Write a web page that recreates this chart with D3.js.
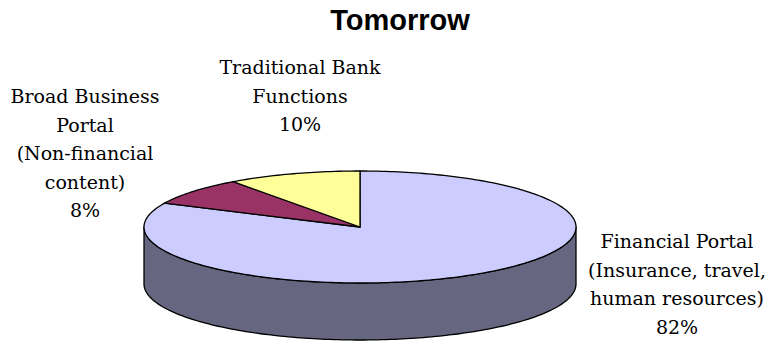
<!DOCTYPE html>
<html>
<head>
<meta charset="utf-8">
<script src="https://cdn.jsdelivr.net/npm/d3@7"></script>
<style>
  body { margin: 0; background: #fff; }
  svg { display: block; }
</style>
</head>
<body>
<script>
'use strict';

(function() {

// slice data, clockwise from 12 o'clock
const categories = ['Financial Portal', 'Broad Business Portal', 'Traditional Bank Functions'];
const values = [82, 8, 10];
const labelLines = [
  ['Financial Portal', '(Insurance, travel,', 'human resources)', '82%'],
  ['Broad Business', 'Portal', '(Non-financial', 'content)', '8%'],
  ['Traditional Bank', 'Functions', '10%']
];
const topColors = ['#ccccff', '#993366', '#ffff99'];
const sideColors = ['#666680', '#4d1a33', '#808050'];

const width = 767, height = 341;
const cx = 360, cy = 227, rx = 216, ry = 56, depth = 57;

const svg = d3.select('body').append('svg')
    .attr('width', width)
    .attr('height', height);

// unit circle -> ellipse
const x = d3.scaleLinear().domain([-1, 1]).range([cx - rx, cx + rx]);
const y = d3.scaleLinear().domain([-1, 1]).range([cy - ry, cy + ry]);

const pie = d3.pie().sort(null).value(function(d) { return d; });
const arcs = pie(values);

const line = d3.line()
    .x(function(p) { return p[0]; })
    .y(function(p) { return p[1]; });

function pt(a, dy) {
  return [x(Math.sin(a)), y(-Math.cos(a)) + (dy || 0)];
}

function samples(a0, a1) {
  const n = Math.max(2, Math.ceil(Math.abs(a1 - a0) / 0.02));
  return d3.range(n + 1).map(function(i) { return a0 + (a1 - a0) * i / n; });
}

// side walls (front half only: angles PI/2 .. 3PI/2)
arcs.forEach(function(d, i) {
  const a0 = Math.max(d.startAngle, Math.PI / 2);
  const a1 = Math.min(d.endAngle, 3 * Math.PI / 2);
  if (a1 <= a0) return;
  const topPts = samples(a0, a1).map(function(a) { return pt(a); });
  const botPts = samples(a1, a0).map(function(a) { return pt(a, depth); });
  svg.append('path')
      .attr('d', line(topPts.concat(botPts)) + 'Z')
      .attr('fill', sideColors[i])
      .attr('stroke', '#000')
      .attr('stroke-width', 1.3)
      .attr('stroke-linejoin', 'round');
});

// top faces
arcs.forEach(function(d, i) {
  const pts = [[x(0), y(0)]].concat(samples(d.startAngle, d.endAngle).map(function(a) { return pt(a); }));
  svg.append('path')
      .attr('d', line(pts) + 'Z')
      .attr('fill', topColors[i])
      .attr('stroke', '#000')
      .attr('stroke-width', 1.3)
      .attr('stroke-linejoin', 'round');
});

// title
svg.append('text')
    .attr('x', 400)
    .attr('y', 30)
    .attr('text-anchor', 'middle')
    .style('font-family', '"Liberation Sans", Arial, sans-serif')
    .style('font-weight', 'bold')
    .style('font-size', '29px')
    .text('Tomorrow');

// labels
const labelPos = [[677, 248], [85, 103], [300, 74]];
const lineGap = 28.5;

labelLines.forEach(function(lines, i) {
  const t = svg.append('text')
      .attr('text-anchor', 'middle')
      .style('font-family', '"DejaVu Serif", serif')
      .style('font-size', '19px')
      .attr('fill', '#000');
  lines.forEach(function(s, j) {
    t.append('tspan')
        .attr('x', labelPos[i][0])
        .attr('y', labelPos[i][1] + j * lineGap)
        .text(s);
  });
});

})();
</script>
</body>
</html>
